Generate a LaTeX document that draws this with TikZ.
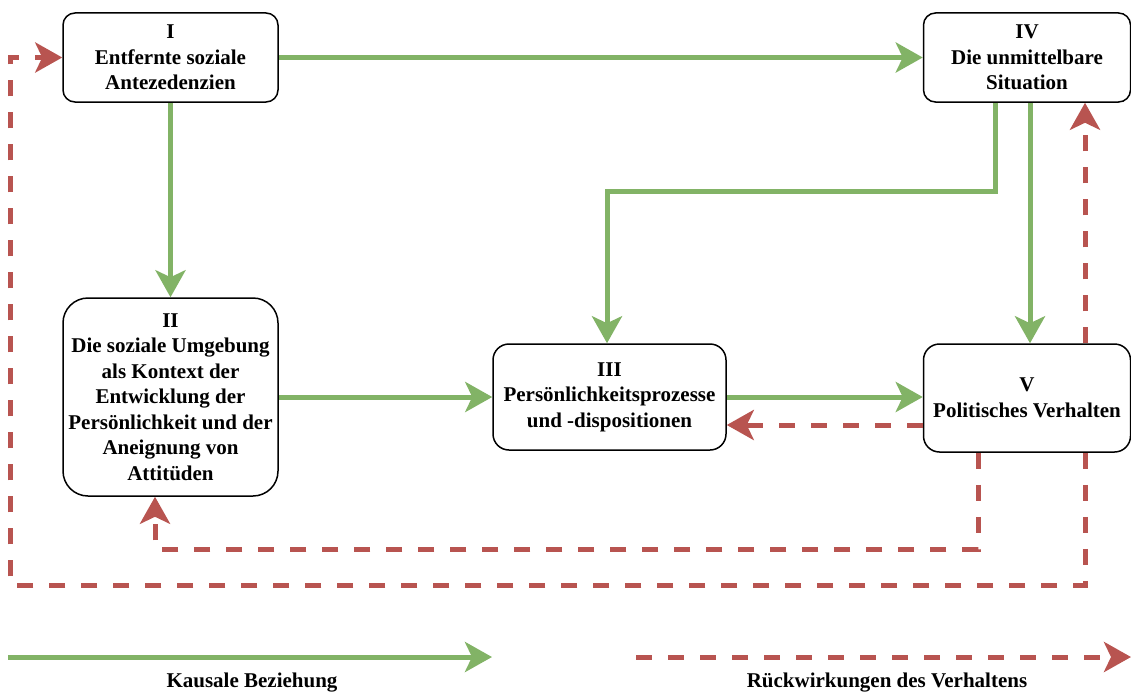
\documentclass[tikz,border=0pt]{standalone}
\usepackage{fontspec}
\setmainfont{Liberation Serif}
\usetikzlibrary{arrows.meta,calc}
\definecolor{gfill}{HTML}{82B366}
\definecolor{rline}{HTML}{B85450}
\tikzset{
  box/.style={draw=black, line width=1.5pt, align=center, inner sep=1pt,
    font=\fontsize{21}{25.5}\selectfont\bfseries},
  garr/.style={draw=gfill, line width=5pt, -{Stealth[length=27pt,width=30pt,inset=7pt]}},
  rarr/.style={draw=rline, line width=5pt, dash pattern=on 16pt off 16pt, -{Stealth[length=27pt,width=30pt,inset=7pt]}},
  legend/.style={font=\fontsize{21}{24}\selectfont\bfseries}
}
\begin{document}
\begin{tikzpicture}[x=1pt,y=-1pt]
\useasboundingbox (0,0) rectangle (1131,693);
\node[box, rounded corners=12pt, minimum width=215pt, minimum height=89pt] (I) at (170.5,57.5) {I\\Entfernte soziale\\Antezedenzien};
\node[box, rounded corners=12pt, minimum width=207pt, minimum height=89pt] (IV) at (1027,57.5) {IV\\Die unmittelbare\\Situation};
\node[box, rounded corners=25pt, minimum width=215pt, minimum height=198pt] (II) at (170.5,397) {II\\Die soziale Umgebung\\als Kontext der\\Entwicklung der\\Persönlichkeit und der\\Aneignung von\\Attitüden};
\node[box, rounded corners=16pt, minimum width=233pt, minimum height=106pt] (III) at (609.5,397) {III\\Persönlichkeitsprozesse\\und -dispositionen};
\node[box, rounded corners=16pt, minimum width=207pt, minimum height=108pt] (V) at (1027,398) {V\\Politisches Verhalten};

% causal arrows
\draw[garr] (I.east) -- (IV.west);
\draw[garr] (I.south) -- (II.north);
\coordinate (k1) at (607,191);
\draw[garr] ($(IV.south)+(-32,0)$) |- (k1) -- (k1 |- III.north);
\draw[garr] ($(IV.south)+(3,0)$) -- ($(V.north)+(3,0)$);
\draw[garr] (II.east) -- (III.west);
\draw[garr] (III.east) -- (III.east -| V.west);

% feedback arrows
\draw[rarr] ($(V.west)+(0,27)$) -- ($(V.west -| III.east)+(0,27)$);
\coordinate (k2) at (155,549);
\draw[rarr] ($(V.south)+(-49,0)$) |- (k2) -- (k2 |- II.south);
\coordinate (k3) at (10,585);
\draw[rarr] ($(V.south)+(58,0)$) |- (k3) |- (I.west);
\draw[rarr] ($(V.north)+(58,0)$) -- ($(IV.south)+(58,0)$);

% legend
\coordinate (la) at (8,657);
\coordinate (lb) at (492,657);
\coordinate (lc) at (636,657);
\coordinate (ld) at (1131,657);
\draw[garr] (la) -- (lb);
\draw[rarr] (lc) -- (ld);
\node[legend] (lt1) at (252,683) {Kausale Beziehung};
\node[legend] (lt2) at (887,683) {Rückwirkungen des Verhaltens};
\end{tikzpicture}
\end{document}
